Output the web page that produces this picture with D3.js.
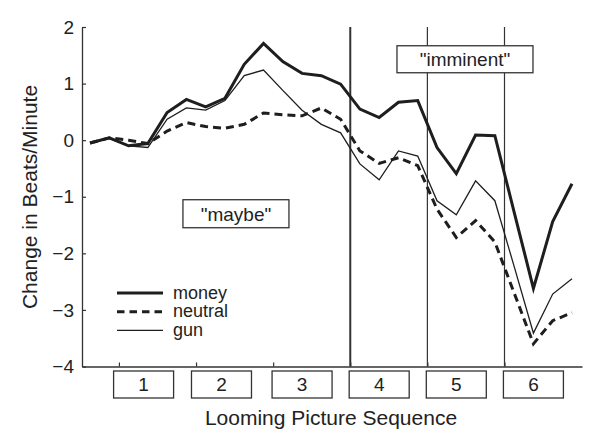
<!DOCTYPE html>
<html>
<head>
<meta charset="utf-8">
<script src="https://d3js.org/d3.v7.min.js"></script>
<style>
  body { margin: 0; background: #fff; }
  text { font-family: "Liberation Sans", Arial, sans-serif; fill: #222; }
</style>
</head>
<body>
<svg class="chart" width="601" height="442"></svg>
<script>
// point number 1..26 along the looming sequence
var money   = [-0.05, 0.04, -0.10, -0.06, 0.49, 0.72, 0.59, 0.74, 1.34, 1.71, 1.39, 1.18, 1.14,
               0.99, 0.55, 0.40, 0.67, 0.70, -0.13, -0.59, 0.09, 0.08, -1.27, -2.62, -1.44, -0.77];
var neutral = [-0.05, 0.04, 0.00, -0.06, 0.16, 0.31, 0.24, 0.21, 0.28, 0.48, 0.45, 0.43, 0.57,
               0.37, -0.19, -0.41, -0.31, -0.45, -1.22, -1.72, -1.42, -1.80, -2.70, -3.60, -3.19, -3.05];
var gun     = [-0.05, 0.03, -0.10, -0.13, 0.37, 0.57, 0.53, 0.70, 1.14, 1.24, 0.88, 0.53, 0.28,
               0.13, -0.42, -0.70, -0.19, -0.28, -1.07, -1.32, -0.72, -1.07, -2.23, -3.41, -2.72, -2.45];

var seqLabels  = ["1", "2", "3", "4", "5", "6"];
var seqCenters = [3.78, 7.82, 12, 16, 20, 24];
var xTicks     = [2.5, 6.5, 10.5, 14.5, 18.5, 22.5];
var dividers   = [14.5, 18.5, 22.5];
var yTicks     = [-4, -3, -2, -1, 0, 1, 2];

var series = [
  {name: "money",   values: money,   width: 3,   dash: null},
  {name: "neutral", values: neutral, width: 3,   dash: "8,5"},
  {name: "gun",     values: gun,     width: 1.3, dash: null}
];

var x = d3.scaleLinear().domain([0.585, 26.52]).range([82, 582]);
var y = d3.scaleLinear().domain([-4, 2]).range([366.5, 27]);

var svg = d3.select("svg");

// y axis, ticks pointing inward
svg.append("g")
    .attr("transform", "translate(" + x(0.585) + ",0)")
    .call(d3.axisLeft(y).tickValues(yTicks).tickFormat(d3.format("d"))
            .tickSizeInner(-4).tickSizeOuter(0).tickPadding(8))
    .call(function(g) {
      g.select(".domain").attr("stroke", "#333").attr("stroke-width", 1.3);
      g.selectAll(".tick line").attr("stroke", "#333").attr("stroke-width", 1.2);
      g.selectAll(".tick text").attr("font-size", 19).attr("fill", "#222")
        .style("font-family", "'Liberation Sans', Arial, sans-serif");
    });

// x axis
svg.append("g")
    .attr("transform", "translate(0," + y(-4) + ")")
    .call(d3.axisBottom(x).tickValues(xTicks).tickFormat("").tickSizeInner(-4).tickSizeOuter(0))
    .call(function(g) {
      g.select(".domain").attr("stroke", "#333").attr("stroke-width", 1.3);
      g.selectAll(".tick line").attr("stroke", "#333").attr("stroke-width", 1.2);
    });

// vertical dividers
svg.selectAll(".divider")
  .data(dividers)
  .enter().append("line")
    .attr("class", "divider")
    .attr("x1", function(d) { return x(d); })
    .attr("x2", function(d) { return x(d); })
    .attr("y1", y(2))
    .attr("y2", y(-4))
    .attr("stroke", "#333")
    .attr("stroke-width", function(d, i) { return i == 0 ? 2 : 1.2; });

// series lines
var line = d3.line()
    .x(function(d, i) { return x(i + 1); })
    .y(function(d) { return y(d); });

svg.selectAll(".series")
  .data(series)
  .enter().append("path")
    .attr("class", "series")
    .attr("d", function(d) { return line(d.values); })
    .attr("fill", "none")
    .attr("stroke", "#1e1e1e")
    .attr("stroke-width", function(d) { return d.width; })
    .attr("stroke-dasharray", function(d) { return d.dash; })
    .attr("stroke-linejoin", "miter");

// boxes under the axis
var boxes = svg.selectAll(".seqbox")
  .data(seqLabels)
  .enter().append("g")
    .attr("class", "seqbox")
    .attr("transform", function(d, i) { return "translate(" + x(seqCenters[i]) + ",384.5)"; });
boxes.append("rect")
    .attr("x", -30).attr("y", -13.5).attr("width", 60).attr("height", 27)
    .attr("fill", "#fff").attr("stroke", "#333").attr("stroke-width", 1.3);
boxes.append("text")
    .attr("text-anchor", "middle")
    .attr("dy", "0.36em")
    .attr("font-size", 19)
    .text(function(d) { return d; });

// annotation boxes
var notes = [
  {label: "\"maybe\"",    cx: 8.57,  cy: -1.30, w: 106, h: 28},
  {label: "\"imminent\"", cx: 20.45, cy: 1.43,  w: 136, h: 27}
];
var ng = svg.selectAll(".note")
  .data(notes)
  .enter().append("g")
    .attr("class", "note")
    .attr("transform", function(d) { return "translate(" + x(d.cx) + "," + y(d.cy) + ")"; });
ng.append("rect")
    .attr("x", function(d) { return -d.w / 2; })
    .attr("y", function(d) { return -d.h / 2; })
    .attr("width", function(d) { return d.w; })
    .attr("height", function(d) { return d.h; })
    .attr("fill", "#fff").attr("stroke", "#333").attr("stroke-width", 1.3);
ng.append("text")
    .attr("text-anchor", "middle")
    .attr("dy", "0.36em")
    .attr("font-size", 19)
    .text(function(d) { return d.label; });

// legend
var legend = svg.selectAll(".legend")
  .data(series)
  .enter().append("g")
    .attr("class", "legend")
    .attr("transform", function(d, i) { return "translate(117," + (293 + i * 18.7) + ")"; });
legend.append("line")
    .attr("x1", 0).attr("x2", 46)
    .attr("stroke", "#1e1e1e")
    .attr("stroke-width", function(d) { return d.width; })
    .attr("stroke-dasharray", function(d) { return d.dash ? "7.5,5" : null; });
legend.append("text")
    .attr("x", 56)
    .attr("dy", "0.32em")
    .attr("font-size", 18)
    .text(function(d) { return d.name; });

// axis titles
svg.append("text")
    .attr("x", 331)
    .attr("y", 425)
    .attr("text-anchor", "middle")
    .attr("font-size", 21)
    .text("Looming Picture Sequence");

svg.append("text")
    .attr("transform", "translate(37,197) rotate(-90)")
    .attr("text-anchor", "middle")
    .attr("font-size", 21)
    .text("Change in Beats/Minute");
</script>
</body>
</html>
